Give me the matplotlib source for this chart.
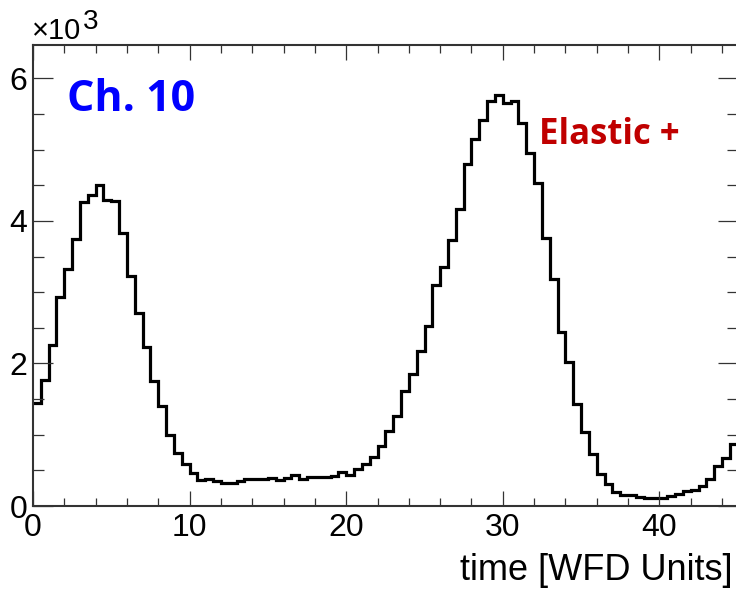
import matplotlib
matplotlib.use("Agg")
import matplotlib.pyplot as plt
import numpy as np
from matplotlib.ticker import MultipleLocator

# time histogram, 0.5 WFD unit bins from 0 to 45
bin_width = 0.5
counts = [1450, 1775, 2260, 2930, 3320, 3750, 4260, 4370, 4500, 4300,
          4280, 3830, 3230, 2710, 2230, 1750, 1400, 1000, 740, 590,
          460, 360, 380, 355, 320, 320, 345, 380, 380, 380,
          390, 370, 390, 435, 375, 400, 400, 400, 425, 480,
          435, 515, 590, 690, 840, 1050, 1260, 1610, 1850, 2180,
          2520, 3095, 3350, 3730, 4170, 4800, 5145, 5420, 5680, 5765,
          5655, 5680, 5380, 4960, 4530, 3760, 3190, 2440, 2020, 1430,
          1040, 730, 445, 305, 200, 155, 155, 130, 108, 108,
          108, 146, 174, 206, 230, 287, 380, 560, 670, 876]
x_ticks = [0, 10, 20, 30, 40]
y_ticks = [0, 2, 4, 6]
channel_label = "Ch. 10"
peak_label = "Elastic +"

edges = np.arange(len(counts) + 1) * bin_width
values = np.array(counts) / 1000.0

fig = plt.figure(figsize=(7.36, 5.89), dpi=100)
ax = fig.add_axes([33 / 736, 83 / 589, 704.7 / 736, 461 / 589])

ax.stairs(values, edges, color="black", linewidth=2.3, baseline=None)

ax.set_xlim(0, 45)
ax.set_ylim(0, 6.47)
ax.set_xticks(x_ticks)
ax.set_yticks(y_ticks)
ax.xaxis.set_minor_locator(MultipleLocator(2))
ax.yaxis.set_minor_locator(MultipleLocator(0.5))

for s in ax.spines.values():
    s.set_color("#333333")
    s.set_linewidth(1.5)

ax.tick_params(axis="both", which="both", direction="in", top=True, right=True,
               color="#333333", width=0.9, labelsize=23, labelfontfamily="Liberation Sans")
ax.tick_params(axis="x", which="major", length=10.5, pad=5)
ax.tick_params(axis="x", which="minor", length=5.5)
ax.tick_params(axis="y", which="major", length=14.5, pad=4)
ax.tick_params(axis="y", which="minor", length=8)

# axis title, right-aligned under the visible end of the axis
fig.text(733 / 736, 1 - 580 / 589, "time [WFD Units]", fontsize=26,
         family="Liberation Sans", ha="right", va="baseline")

# exponent marker in the upper left corner
fig.text(32 / 736, 1 - 39 / 589, "\u00d710", fontsize=21, family="Liberation Sans",
         ha="left", va="baseline")
fig.text(83 / 736, 1 - 29 / 589, "3", fontsize=20, family="Liberation Sans",
         ha="left", va="baseline")

fig.text(67 / 736, 1 - 111 / 589, channel_label, fontsize=31, fontweight="bold",
         family="Open Sans", color="#0000ff", ha="left", va="baseline")
fig.text(539 / 736, 1 - 144 / 589, peak_label, fontsize=25, fontweight="bold",
         family="Open Sans", color="#c00000", ha="left", va="baseline")

fig.savefig("out.png", dpi=100)
